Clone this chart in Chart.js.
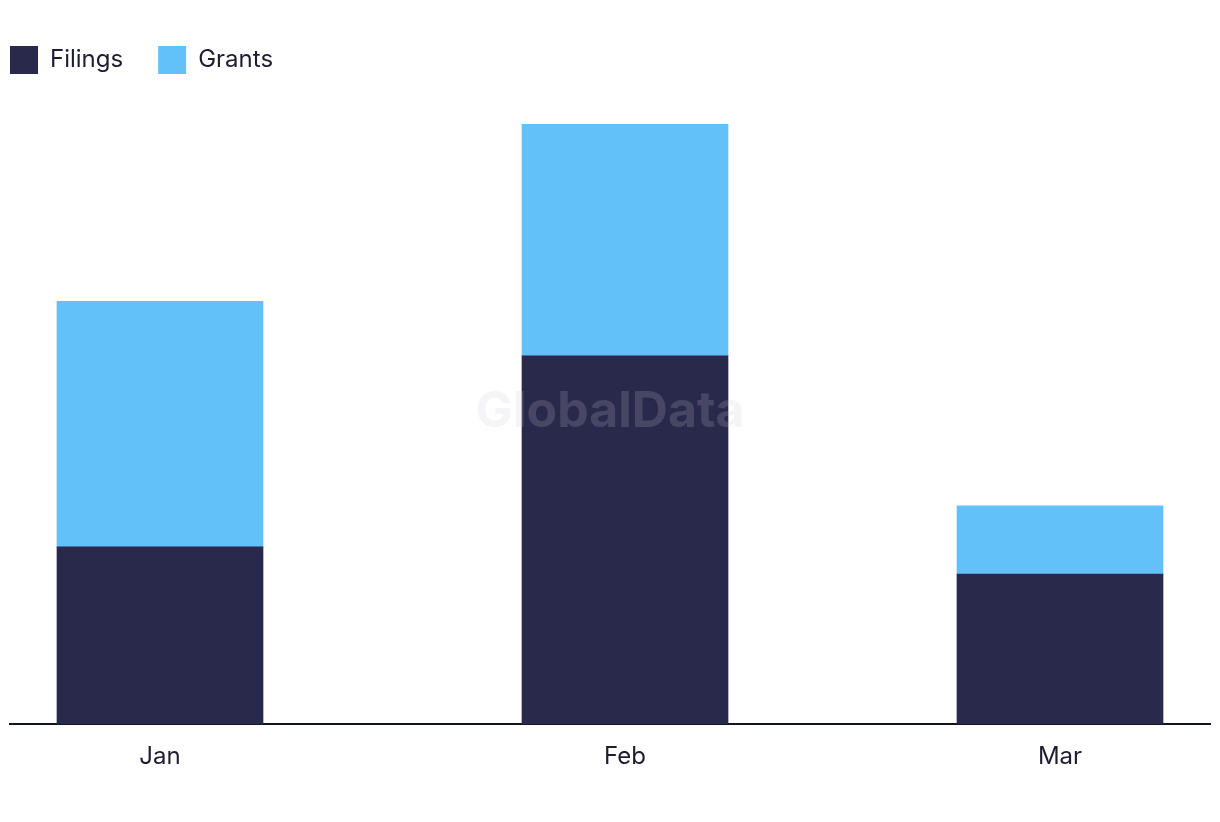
<!DOCTYPE html>
<html>
<head>
<meta charset="utf-8">
<script src="https://cdn.jsdelivr.net/npm/chart.js@4"></script>
<style>
  html, body { margin: 0; padding: 0; background: #ffffff; }
  #wrap { width: 1220px; height: 822px; }
</style>
</head>
<body>
<div id="wrap"><canvas id="barChart"></canvas></div>
<script>
// months sit on a day axis (2024, so Feb has 29 days)
const months = ['Jan', 'Feb', 'Mar'];
const monthDays = [0, 31, 60];
const filings = [13, 27, 11];
const grants = [18, 17, 5];

const toPoints = (vals) => vals.map((v, i) => ({ x: monthDays[i], y: v }));

const legendPad = 35;

// push legend flush left and leave room under it
const legendTweak = {
    id: 'legendTweak',
    beforeInit(chart) {
        const fit = chart.legend.fit;
        chart.legend.fit = function() {
            fit.bind(chart.legend)();
            this.height = 113;
        };
    },
    afterLayout(chart) {
        chart.legend.left -= legendPad;
    }
};

// faint watermark over the bars
const watermark = {
    id: 'watermark',
    afterDatasetsDraw(chart) {
        const { ctx } = chart;
        ctx.save();
        ctx.font = 'bold 50px Inter, sans-serif';
        ctx.fillStyle = 'rgba(200, 200, 212, 0.19)';
        ctx.textAlign = 'center';
        ctx.textBaseline = 'middle';
        ctx.fillText('GlobalData', 610, 412);
        ctx.restore();
    }
};

const ctx = document.getElementById('barChart');
new Chart(ctx, {
    type: 'bar',
    data: {
        datasets: [{
            label: 'Filings',
            data: toPoints(filings),
            backgroundColor: '#29294c',
            barThickness: 206
        }, {
            label: 'Grants',
            data: toPoints(grants),
            backgroundColor: '#63c1f9',
            barThickness: 206
        }]
    },
    options: {
        responsive: true,
        maintainAspectRatio: false,
        animation: false,
        layout: { padding: { left: 10, right: 10, top: 46 - legendPad, bottom: 41 } },
        plugins: {
            legend: {
                position: 'top',
                align: 'start',
                labels: {
                    boxWidth: 28,
                    boxHeight: 28,
                    padding: legendPad,
                    color: '#1d1d30',
                    font: { family: 'Inter', size: 24 }
                }
            },
            tooltip: { enabled: false }
        },
        scales: {
            x: {
                type: 'linear',
                min: -10,
                max: 70,
                offset: false,
                stacked: true,
                grid: { display: false, offset: false },
                border: { display: true, color: '#141428', width: 2 },
                afterBuildTicks: (scale) => {
                    scale.ticks = monthDays.map(d => ({ value: d }));
                },
                ticks: {
                    color: '#1d1d30',
                    padding: 10,
                    font: { family: 'Inter', size: 24 },
                    callback: (val) => months[monthDays.indexOf(val)]
                }
            },
            y: {
                display: false,
                stacked: true,
                min: 0,
                max: 44
            }
        }
    },
    plugins: [watermark, legendTweak]
});
</script>
</body>
</html>
